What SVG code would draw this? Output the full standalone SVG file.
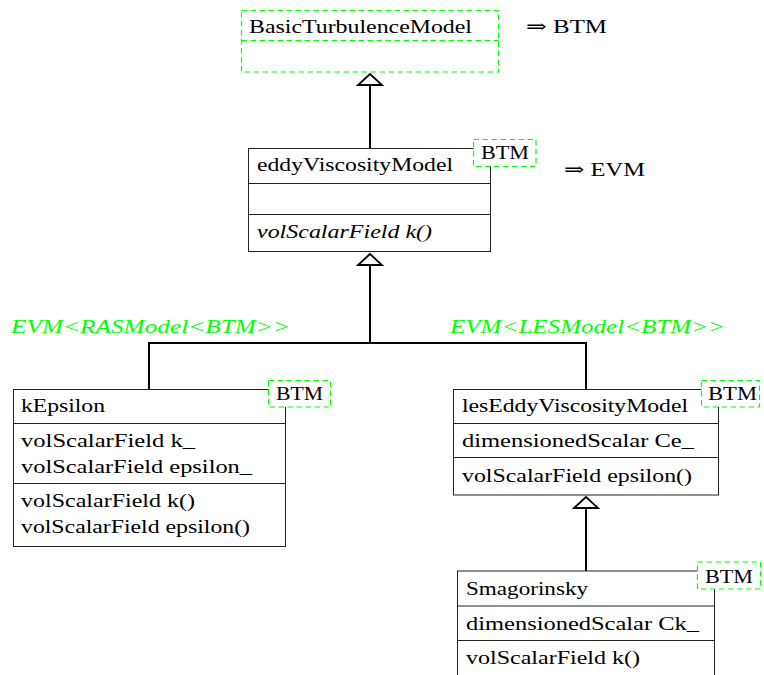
<svg xmlns="http://www.w3.org/2000/svg" width="764" height="675" viewBox="0 0 764 675">
<style>
text{font-family:'Liberation Serif','DejaVu Serif',serif;font-size:19px;fill:#000}
.it{font-style:italic}
.g{fill:#00ff00;font-style:italic}
.tag text{font-size:18px}
.box{fill:#fff;stroke:#222;stroke-width:1}
.div{stroke:#222;stroke-width:1}
.dash{fill:#fff;stroke:#00ff00;stroke-width:1.2;stroke-dasharray:5.5 3.5}
.conn{stroke:#000;stroke-width:2;fill:none}
.head{fill:#fff;stroke:#000;stroke-width:1.8;stroke-linejoin:miter}
</style>
<rect width="764" height="675" fill="#fff"/>
<g id="connectors">
<line class="conn" x1="370" y1="85" x2="370" y2="148"/>
<polygon class="head" points="370,74 358,85 382,85"/>
<polyline class="conn" points="370,265 370,343"/>
<polyline class="conn" points="149,389 149,343 586,343 586,389"/>
<polygon class="head" points="370,254 358,265 382,265"/>
<line class="conn" x1="586" y1="508" x2="586" y2="571"/>
<polygon class="head" points="586,497 574,508 598,508"/>
<text class="g" x="11" y="333" textLength="279" lengthAdjust="spacingAndGlyphs">EVM&lt;RASModel&lt;BTM&gt;&gt;</text>
<text class="g" x="450" y="333" textLength="275" lengthAdjust="spacingAndGlyphs">EVM&lt;LESModel&lt;BTM&gt;&gt;</text>
</g>
<g id="BasicTurbulenceModel">
<rect class="dash" x="241.5" y="10.5" width="257" height="61.5"/>
<line class="dash" x1="241.5" y1="40.5" x2="498.5" y2="40.5"/>
<text x="249" y="33" textLength="223" lengthAdjust="spacingAndGlyphs">BasicTurbulenceModel</text>
<text x="526" y="33" textLength="81" lengthAdjust="spacingAndGlyphs">⇒ BTM</text>
</g>
<g id="eddyViscosityModel">
<rect class="box" x="248.5" y="148.5" width="242" height="103"/>
<line class="div" x1="248.5" y1="183.5" x2="490.5" y2="183.5"/>
<line class="div" x1="248.5" y1="214.5" x2="490.5" y2="214.5"/>
<text x="257" y="171" textLength="196" lengthAdjust="spacingAndGlyphs">eddyViscosityModel</text>
<text class="it" x="257" y="237.5" textLength="175" lengthAdjust="spacingAndGlyphs">volScalarField k()</text>
<g class="tag"><rect class="dash" x="473.5" y="139.5" width="62.5" height="27"/>
<text x="481" y="159" textLength="48" lengthAdjust="spacingAndGlyphs">BTM</text></g>
<text x="564" y="176" textLength="81" lengthAdjust="spacingAndGlyphs">⇒ EVM</text>
</g>
<g id="kEpsilon">
<rect class="box" x="13.5" y="389.5" width="272" height="157"/>
<line class="div" x1="13.5" y1="423.5" x2="285.5" y2="423.5"/>
<line class="div" x1="13.5" y1="483.5" x2="285.5" y2="483.5"/>
<text x="21" y="412" textLength="84" lengthAdjust="spacingAndGlyphs">kEpsilon</text>
<text x="21" y="447" textLength="174" lengthAdjust="spacingAndGlyphs">volScalarField k_</text>
<text x="21" y="473" textLength="231" lengthAdjust="spacingAndGlyphs">volScalarField epsilon_</text>
<text x="21" y="507" textLength="174" lengthAdjust="spacingAndGlyphs">volScalarField k()</text>
<text x="21" y="533" textLength="229" lengthAdjust="spacingAndGlyphs">volScalarField epsilon()</text>
<g class="tag"><rect class="dash" x="268.5" y="380.5" width="62" height="26.5"/>
<text x="276" y="399.5" textLength="47" lengthAdjust="spacingAndGlyphs">BTM</text></g>
</g>
<g id="lesEddyViscosityModel">
<rect class="box" x="453.5" y="389.5" width="265" height="105.5"/>
<line class="div" x1="453.5" y1="423.5" x2="718.5" y2="423.5"/>
<line class="div" x1="453.5" y1="457.5" x2="718.5" y2="457.5"/>
<text x="462" y="412" textLength="226" lengthAdjust="spacingAndGlyphs">lesEddyViscosityModel</text>
<text x="462" y="447" textLength="232" lengthAdjust="spacingAndGlyphs">dimensionedScalar Ce_</text>
<text x="462" y="482" textLength="230" lengthAdjust="spacingAndGlyphs">volScalarField epsilon()</text>
<g class="tag"><rect class="dash" x="701.5" y="380.5" width="58" height="26.5"/>
<text x="708" y="399.5" textLength="49" lengthAdjust="spacingAndGlyphs">BTM</text></g>
</g>
<g id="Smagorinsky">
<rect class="box" x="457.5" y="571" width="257" height="120"/>
<line class="div" x1="457.5" y1="606" x2="714.5" y2="606"/>
<line class="div" x1="457.5" y1="640.5" x2="714.5" y2="640.5"/>
<text x="466" y="595" textLength="122" lengthAdjust="spacingAndGlyphs">Smagorinsky</text>
<text x="466" y="630" textLength="233" lengthAdjust="spacingAndGlyphs">dimensionedScalar Ck_</text>
<text x="466" y="664" textLength="174" lengthAdjust="spacingAndGlyphs">volScalarField k()</text>
<g class="tag"><rect class="dash" x="697.5" y="562" width="63" height="27"/>
<text x="705" y="582.5" textLength="48" lengthAdjust="spacingAndGlyphs">BTM</text></g>
</g>
</svg>
